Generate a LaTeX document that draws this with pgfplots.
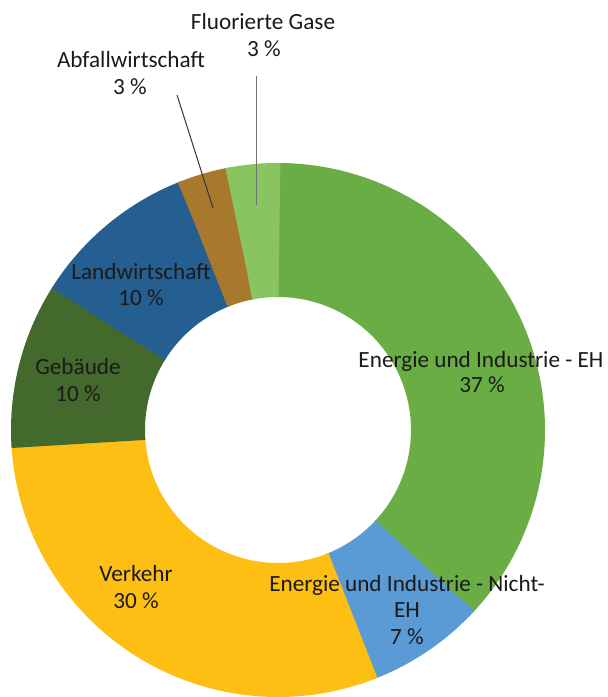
\documentclass[border=0pt]{standalone}
\usepackage{pgfplots}
\pgfplotsset{compat=1.18}
\usepackage{fontspec}
\setmainfont{Carlito}
\definecolor{cEH}{HTML}{6BAD45}
\definecolor{cNEH}{HTML}{5B9BD5}
\definecolor{cVer}{HTML}{FDBF14}
\definecolor{cGeb}{HTML}{44692D}
\definecolor{cLand}{HTML}{255E91}
\definecolor{cAbf}{HTML}{A8782D}
\definecolor{cFlu}{HTML}{88C460}
\definecolor{txt}{HTML}{1A1A1A}
\newcommand\cum{0}
\begin{document}
\begin{tikzpicture}
\begin{axis}[
  x=0.5pt, y=0.5pt,
  xmin=0, xmax=608, ymin=0, ymax=697,
  hide axis, clip=false,
]
\path (axis cs:0,0) rectangle (axis cs:608,697);
% shares in percent, clockwise from the top
\foreach \v/\c in {37/cEH, 7/cNEH, 30/cVer, 10/cGeb, 10/cLand, 3/cAbf, 3/cFlu}{
  \pgfmathsetmacro\a{90-3.6*(\cum+\v)-0.4}
  \pgfmathsetmacro\b{90-3.6*\cum+0.4}
  \edef\temp{\noexpand\addplot[draw=\c, line width=67pt, mark=none, domain=\a:\b, samples=150] ({278+200*cos(x)},{267+200*sin(x)});}
  \temp
  \pgfmathsetmacro\newcum{\cum+\v}
  \xdef\cum{\newcum}
}
\draw[black!80, line width=0.5pt] (axis cs:177,602) -- (axis cs:213,489);
\draw[black!55, line width=0.5pt] (axis cs:256,621) -- (axis cs:256,492);
\begin{scope}[every node/.style={anchor=base, inner sep=0pt, text=txt, font=\fontsize{11.6}{13}\selectfont}]
\node at (axis cs:481,329) {Energie und Industrie - EH};
\node at (axis cs:482,304) {37 \%};
\node at (axis cs:407,105) {Energie und Industrie - Nicht-};
\node at (axis cs:407,79) {EH};
\node at (axis cs:407,53) {7 \%};
\node at (axis cs:136,115) {Verkehr};
\node at (axis cs:136,89) {30 \%};
\node at (axis cs:78,322) {Gebäude};
\node at (axis cs:78,295) {10 \%};
\node at (axis cs:141,417) {Landwirtschaft};
\node at (axis cs:141,391) {10 \%};
\node at (axis cs:131,629) {Abfallwirtschaft};
\node at (axis cs:130,602) {3 \%};
\node at (axis cs:263,667) {Fluorierte Gase};
\node at (axis cs:264,640) {3 \%};
\end{scope}
\end{axis}
\end{tikzpicture}
\end{document}
